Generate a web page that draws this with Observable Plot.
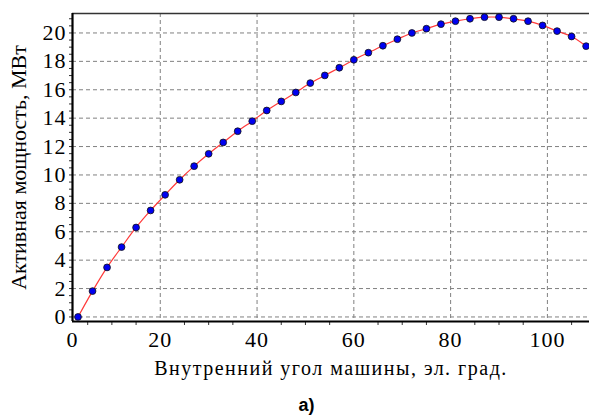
<!DOCTYPE html>
<html>
<head>
<meta charset="utf-8">
<script src="https://cdn.jsdelivr.net/npm/d3@7"></script>
<script src="https://cdn.jsdelivr.net/npm/@observablehq/plot@0.6"></script>
<style>
  html, body { margin: 0; padding: 0; background: #fff; }
  #chart { width: 589px; }
  #caption { width: 589px; text-align: center; font-family: "Liberation Sans", Arial, sans-serif; font-weight: bold; font-size: 18px; margin-left: 12px; box-sizing: border-box; line-height: 20px; padding-top: 10px; }
</style>
</head>
<body>
<div id="chart"></div>
<div id="caption">а)</div>
<script>
// Data
const angle = [3,6,9,12,15,18,21,24,27,30,33,36,39,42,45,48,51,54,57,60,63,66,69,72,75,78,81,84,87,90,93,96,99,102,105,108];
const power = [0,1.82,3.49,4.92,6.30,7.50,8.60,9.66,10.62,11.49,12.29,13.08,13.79,14.54,15.18,15.81,16.47,17.01,17.55,18.11,18.61,19.10,19.56,20.00,20.30,20.62,20.83,21.00,21.11,21.11,21.00,20.83,20.53,20.13,19.75,19.07];

const xDomain = [1.86, 108.7];
const yDomain = [-0.32, 21.37];
const xTickValues = [1.86, 20, 40, 60, 80, 100];
const xTickLabels = ["0", "20", "40", "60", "80", "100"];
const xGridValues = [20, 40, 60, 80, 100];
const xMinorValues = [5,10,15,25,30,35,45,50,55,65,70,75,85,90,95,105];
const yTickValues = [0,2,4,6,8,10,12,14,16,18,20];
const yMinorValues = d3.range(0, 21.4, 0.5);
const xTitle = "Внутренний угол машины, эл. град.";
const yTitle = "Активная мощность, МВт";

const data = angle.map((a, i) => ({angle: a, power: power[i]}));
const serif = "Liberation Serif";

const chart = Plot.plot({
  width: 589,
  height: 385,
  marginLeft: 72,
  marginRight: 0,
  marginTop: 13,
  marginBottom: 64,
  style: {background: "#fff", overflow: "visible", color: "#000"},
  x: {domain: xDomain},
  y: {domain: yDomain},
  marks: [
    Plot.gridX(xGridValues, {stroke: "#808080", strokeOpacity: 1, strokeDasharray: "4,3"}),
    Plot.gridY(yTickValues, {stroke: "#808080", strokeOpacity: 1, strokeDasharray: "4,3"}),
    Plot.ruleY([yDomain[1]], {stroke: "#333", strokeWidth: 1.5}),
    Plot.axisX(xMinorValues, {tickSize: 4, tickFormat: () => "", stroke: "#333", label: null}),
    Plot.axisY(yMinorValues, {tickSize: 3, tickFormat: () => "", stroke: "#333", label: null}),
    Plot.axisX(xTickValues, {
      tickSize: 0, tickPadding: 10,
      tickFormat: (d, i) => xTickLabels[i],
      label: xTitle, labelAnchor: "center", labelArrow: "none", labelOffset: 53
    }),
    Plot.axisY(yTickValues, {
      tickSize: 0, tickPadding: 6,
      label: yTitle, labelAnchor: "center", labelArrow: "none", labelOffset: 62
    }),
    Plot.ruleX([xDomain[0]], {stroke: "#000", strokeWidth: 2.2}),
    Plot.ruleY([yDomain[0]], {stroke: "#000", strokeWidth: 2.2}),
    Plot.line(data, {x: "angle", y: "power", stroke: "#ff3a3a", strokeWidth: 1.2, curve: "catmull-rom"}),
    Plot.dot(data, {x: "angle", y: "power", r: 3.4, fill: "#0000f0", stroke: "#111", strokeWidth: 0.8})
  ]
});
const svg = d3.select(chart);
svg.selectAll("text").each(function() {
  const t = d3.select(this);
  const txt = this.textContent;
  t.style("font-family", serif).style("fill", "#000");
  if (txt === yTitle) {
    t.style("font-size", "22px").style("letter-spacing", "0px");
  } else if (txt === xTitle) {
    t.style("font-size", "20px").style("letter-spacing", "1.5px");
  } else {
    t.style("font-size", "22px").style("letter-spacing", "1px");
  }
});
document.getElementById("chart").appendChild(chart);
</script>
</body>
</html>
